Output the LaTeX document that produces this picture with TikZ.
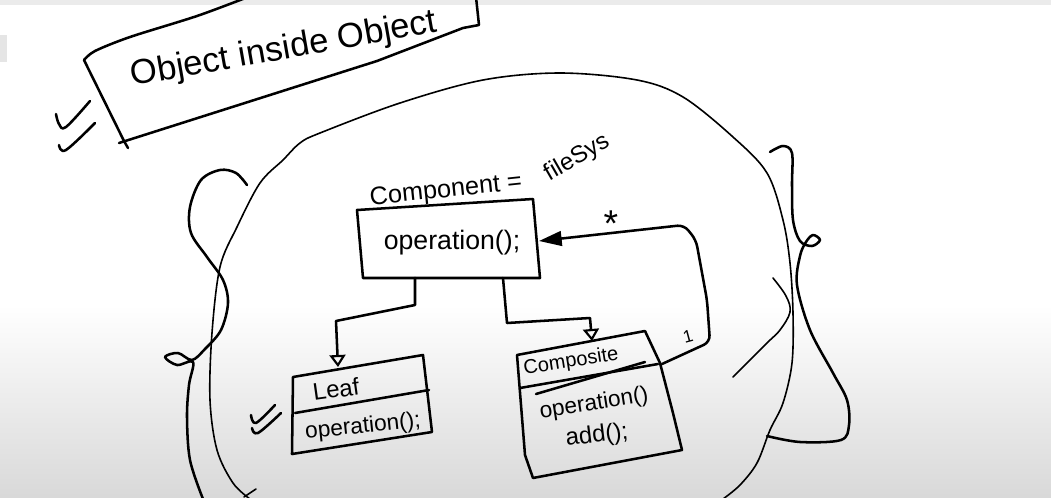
\documentclass[tikz,border=0pt]{standalone}
\usepackage{fontspec}
\setmainfont{Liberation Sans}
\usetikzlibrary{arrows.meta}
\begin{document}
\begin{tikzpicture}[x=0.75pt,y=-0.75pt,
  ink/.style={line width=1.9pt, line cap=round, line join=round, black},
  thinink/.style={line width=1.2pt, line cap=round, line join=round, black},
  txt/.style={inner sep=0pt, font=\fontsize{#1}{#1}\selectfont},
  hollow/.style={-{Triangle[open, length=9pt, width=12pt, line width=1.6pt]}},
  filled/.style={-{Triangle[length=17pt, width=11pt]}}]
% background
\useasboundingbox (0,0) rectangle (1051,497);
\fill[white] (0,0) rectangle (1051,497);
\shade[top color=white, bottom color=black!15] (0,305) rectangle (1051,497);
\fill[black!8] (0,0) rectangle (1051,5);
\fill[black!10] (0,35) rectangle (7,62);

% ---- title box (tilted) ----
\draw[ink] plot[smooth, tension=0.5] coordinates {(248,-3) (197,16) (130,37) (95,51) (84,60)};
\draw[ink] (84,60) -- (124,141) -- (128,148);
\draw[ink] (119,143) -- (377,61) -- (463,28) -- (479,25) -- (476,-3);
\node[txt=26, rotate=10] (title) at (284,50) {Object inside Object};
% check marks
\draw[ink] plot[smooth, tension=0.6] coordinates {(56,114) (59,124) (66,127) (90,101)};
\draw[ink] plot[smooth, tension=0.6] coordinates {(59,145) (66,150) (95,123)};

% ---- big blob ----
\draw[thinink] plot[smooth, tension=0.55] coordinates {(250,499) (233,483) (217,450) (210,400) (212,333) (220,267) (237,227) (260,183) (283,160) (300,143) (320,133) (400,103) (483,80) (560,73) (637,80) (683,97) (733,137) (767,173) (783,220) (790,263) (793,313) (792,363) (783,403) (770,430) (757,463) (740,485) (723,499)};
% left brace
\draw[ink] plot[smooth, tension=0.55] coordinates {(247,185) (236,173) (220,170) (201,180) (190,207) (191,233) (207,257) (223,280) (228,303) (221,330) (205,349) (192,360) (178,353) (165,357) (177,365) (193,362) (189,385) (187,417) (190,460) (203,499)};
% right brace
\draw[ink] plot[smooth, tension=0.55] coordinates {(770,152) (783,146) (792,153) (792,185) (793,220) (800,241) (812,246) (820,240) (813,235) (806,242) (800,256) (797,285) (810,330) (833,373) (847,400) (849,425) (841,440) (800,442) (767,436)};
% thin stroke
\draw[thinink] plot[smooth, tension=0.6] coordinates {(773,278) (786,296) (790,312) (780,330) (767,343) (733,377)};
% small stroke bottom left
\draw[thinink] (244,497) -- (256,489);

% ---- Component ----
\coordinate (cTL) at (357,210);
\coordinate (cTR) at (533,199);
\coordinate (cBR) at (540,278);
\coordinate (cBL) at (363,278);
\draw[ink] (cTL) -- (cTR) -- (cBR) -- (cBL) -- cycle;
\node[txt=19, rotate=6] (complabel) at (446,191) {Component =};
\node[txt=18, rotate=30] (filesys) at (577,158) {fileSys};
\node[txt=20] (compop) at (452,243) {operation();};
\coordinate (cOut1) at (415,278);
\coordinate (cOut2) at (503,278);
\coordinate (cIn) at (539,241);

% ---- Leaf ----
\coordinate (lTL) at (293,377);
\coordinate (lTR) at (423,355);
\coordinate (lBR) at (432,432);
\coordinate (lBL) at (292,454);
\draw[ink] (lTL) -- (lTR) -- (lBR) -- (lBL) -- cycle;
\draw[ink] (295,413) -- (429,390);
\node[txt=18, rotate=8] (leafname) at (336,389) {Leaf};
\node[txt=17, rotate=6] (leafop) at (363,427) {operation();};
\coordinate (lIn) at (338,367);
% ticks near leaf
\draw[ink] plot[smooth, tension=0.6] coordinates {(251,415) (256,423) (275,405)};
\draw[ink] plot[smooth, tension=0.6] coordinates {(252,428) (258,433) (281,413)};

% ---- Composite ----
\coordinate (kTL) at (517,355);
\coordinate (kTR) at (645,331);
\coordinate (kBR) at (682,450);
\coordinate (kBL) at (533,478);
\draw[ink] (kTL) -- (kTR) -- (660,363) -- (673,413) -- (kBR) -- (kBL) -- (525,455) -- cycle;
\draw[ink] (520,388) -- (658,364);
\draw[ink] (536,394) -- (645,362);
\node[txt=15, rotate=9] (compname) at (571,362) {Composite};
\node[txt=17, rotate=9] (compositeop) at (594,404) {operation()};
\node[txt=18, rotate=7] (addop) at (597,436) {add();};
\coordinate (kIn) at (592,341);
\coordinate (kOut) at (662,364);

% ---- connectors ----
\draw[ink, hollow] (cOut1) -- (415,305) -- (336,321) -- (lIn);
\draw[ink, hollow] (cOut2) -- (507,323) -- (590,318) -- (kIn);
\draw[ink, filled, rounded corners=5pt] (kOut) -- (710,342) -- (707,300) -- (696,240) -- (684,225) -- (cIn);
\node[txt=28] (star) at (611,224) {*};
\node[txt=13, rotate=15] (one) at (688,336) {1};
\end{tikzpicture}
\end{document}
